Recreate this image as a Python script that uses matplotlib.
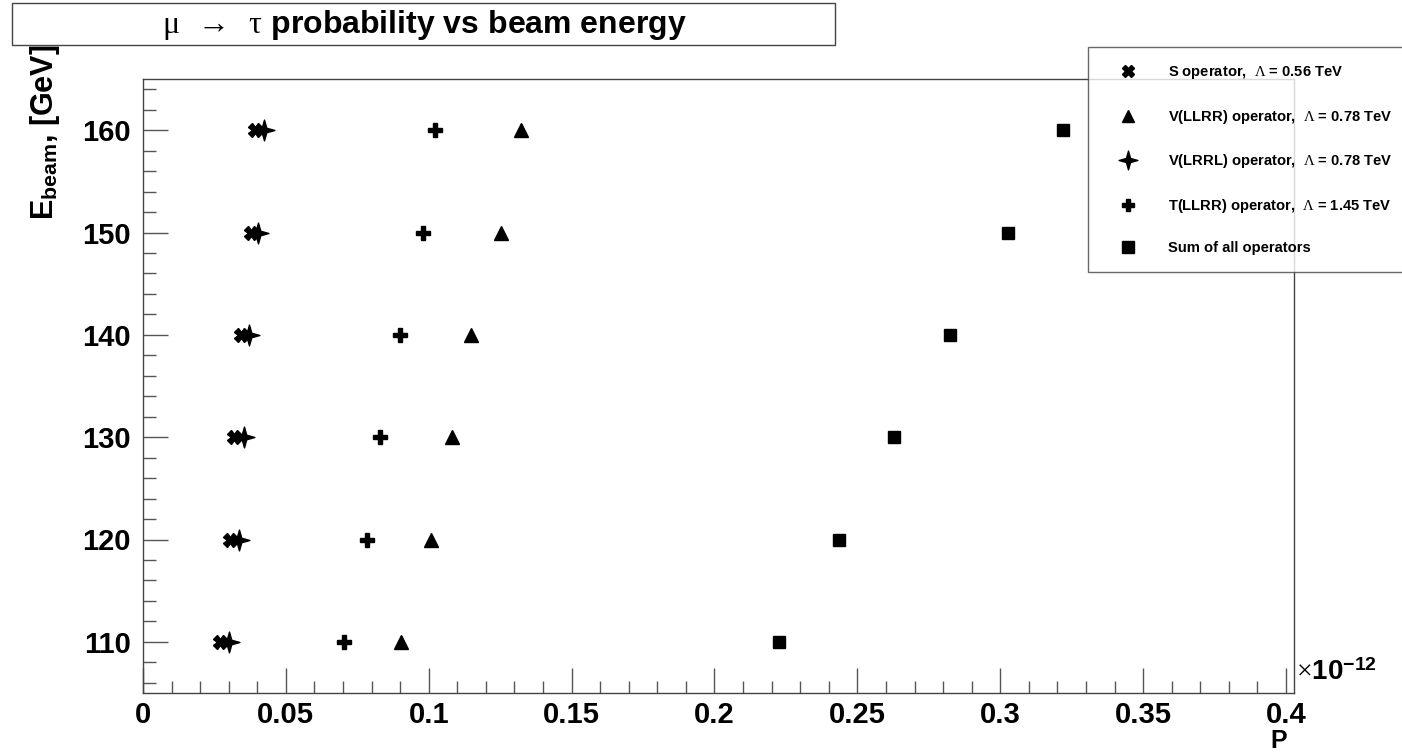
import matplotlib
matplotlib.use("Agg")
import matplotlib.pyplot as plt
from matplotlib.ticker import MultipleLocator
from matplotlib.path import Path

plt.rcParams['font.family'] = ['Liberation Sans', 'DejaVu Sans']
plt.rcParams['font.weight'] = 'bold'
plt.rcParams['mathtext.fontset'] = 'custom'
plt.rcParams['mathtext.rm'] = 'Liberation Serif:weight=normal'
plt.rcParams['mathtext.it'] = 'Liberation Serif:weight=normal'
plt.rcParams['mathtext.bf'] = 'Liberation Sans:bold'

# datos (P en unidades de 1e-12)
energia = [110, 120, 130, 140, 150, 160]
p_s = [0.0269, 0.0304, 0.0318, 0.0343, 0.0378, 0.0392]
p_vllrr = [0.0903, 0.1008, 0.1081, 0.1148, 0.1253, 0.1323]
p_vlrrl = [0.0301, 0.0336, 0.0353, 0.0371, 0.0402, 0.0423]
p_tllrr = [0.0703, 0.0784, 0.0829, 0.0899, 0.0980, 0.1022]
p_suma = [0.2225, 0.2435, 0.2628, 0.2824, 0.3027, 0.3219]

etiquetas = [r"S operator,  $\mathrm{\Lambda}$ = 0.56 TeV",
             r"V(LLRR) operator,  $\mathrm{\Lambda}$ = 0.78 TeV",
             r"V(LRRL) operator,  $\mathrm{\Lambda}$ = 0.78 TeV",
             r"T(LLRR) operator,  $\mathrm{\Lambda}$ = 1.45 TeV",
             "Sum of all operators"]

# estrella de 4 puntas fina (como el marcador de ROOT)
r = 0.22
estrella = Path([(1, 0), (r, r), (0, 1), (-r, r), (-1, 0), (-r, -r), (0, -1), (r, -r), (1, 0)],
                closed=True)

fig = plt.figure(figsize=(14.02, 7.54), dpi=100)
ax = fig.add_axes([143/1402, 1-693/754, (1294-143)/1402, (693-79)/754])

ax.plot(p_s, energia, 'X', color='black', ms=10, label=etiquetas[0])
ax.plot(p_vllrr, energia, '^', color='black', ms=10, label=etiquetas[1])
ax.plot(p_vlrrl, energia, marker=estrella, ls='none', color='black', ms=15, label=etiquetas[2])
ax.plot(p_tllrr, energia, 'P', color='black', ms=10, label=etiquetas[3])
ax.plot(p_suma, energia, 's', color='black', ms=9, label=etiquetas[4])

ax.set_xlim(0, 0.4028)
ax.set_ylim(105, 165)

ax.xaxis.set_minor_locator(MultipleLocator(0.01))
ax.yaxis.set_major_locator(MultipleLocator(10))
ax.yaxis.set_minor_locator(MultipleLocator(2))
ax.set_xticks([0, 0.05, 0.1, 0.15, 0.2, 0.25, 0.3, 0.35, 0.4])
ax.set_xticklabels(['0', '0.05', '0.1', '0.15', '0.2', '0.25', '0.3', '0.35', '0.4'])

ax.tick_params(which='both', direction='in', top=False, right=False, labelsize=21, color='#555555')
ax.tick_params(which='major', length=18, width=1)
ax.tick_params(which='minor', length=9, width=1)
ax.tick_params(axis='x', pad=6)
ax.tick_params(axis='y', pad=9)
for s in ax.spines.values():
    s.set_color('#444444')
    s.set_linewidth(1)

# titulos de ejes (estilo ROOT, alineados al final del eje)
ax.text(1.0 - 0.006, -0.089, "P", transform=ax.transAxes, ha='right', va='baseline', fontsize=18)
ax.text(-0.085, 1.057, r"E$_{\mathbf{beam}}$, [GeV]", transform=ax.transAxes,
        rotation=90, ha='center', va='top', fontsize=22)
ax.text(1.002, 0.012, r"$\mathrm{\times}$10$^{\mathbf{-12}}$", transform=ax.transAxes,
        ha='left', va='bottom', fontsize=20)

# titulo en caja
fig.text(424/1402, 1-25/754, r"$\mathrm{\mu\;\;\rightarrow\;\;\tau}$ probability vs beam energy",
         ha='center', va='center', fontsize=23)
caja = plt.Rectangle((12/1402, 1-45/754), (835-12)/1402, 42/754, transform=fig.transFigure,
                     fill=False, ec='#444444', lw=1)
fig.patches.append(caja)

leg = fig.legend(loc='upper left', bbox_to_anchor=(1088/1402, 1-48/754, 330/1402, 0.001),
                 mode='expand', fontsize=10.6, frameon=True, fancybox=False,
                 edgecolor='#444444', labelspacing=1.8, handletextpad=1.15,
                 borderpad=1.15, borderaxespad=0, handlelength=3.1, markerscale=0.9)
leg.get_frame().set_linewidth(1)

fig.savefig("out.png", dpi=100)
